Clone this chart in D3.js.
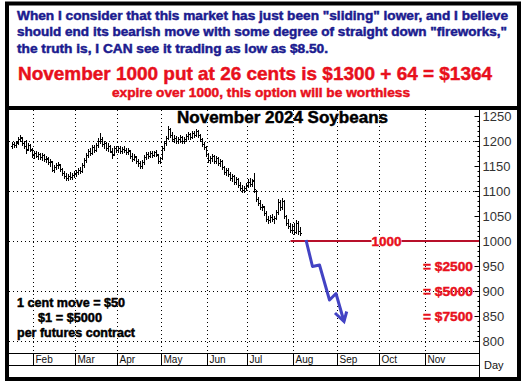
<!DOCTYPE html>
<html>
<head>
<meta charset="utf-8">
<script src="https://cdn.jsdelivr.net/npm/d3@7"></script>
<style>
  body { margin: 0; background: #fff; }
  svg { display: block; font-family: "Liberation Sans", Arial, sans-serif; }
  .heavy { font-weight: bold; stroke-width: 0.45px; }
</style>
</head>
<body>
<svg id="chart" width="524" height="386"></svg>
<script>
// daily bars, one per weekday starting Thu Jan 18 2024
const startDate = new Date(2024, 0, 18);
const opens  = [1190,1194,1192,1198,1204,1206,1196,1190,1184,1192,1182,1172,1176,1170,1174,1168,1172,1164,1164,1158,
                1158,1143,1148,1152,1152,1144,1136,1130,1126,1130,1128,1133,1136,1139,1142,1140,1152,1162,1172,1180,
                1177,1188,1182,1192,1200,1204,1194,1196,1186,1190,1178,1174,1186,1182,1187,1180,1185,1182,1178,1180,
                1170,1164,1168,1160,1156,1150,1158,1168,1174,1170,1176,1172,1178,1172,1160,1166,1186,1196,1206,1224,
                1212,1204,1206,1200,1204,1208,1200,1204,1210,1214,1208,1216,1212,1220,1212,1204,1194,1188,1174,1162,
                1166,1170,1160,1166,1156,1160,1148,1138,1142,1134,1126,1130,1118,1124,1112,1106,1102,1106,1112,1118,
                1114,1122,1100,1084,1076,1068,1068,1056,1044,1042,1048,1044,1046,1058,1078,1068,1080,1050,1036,1030,
                1022,1030,1018,1036,1020];
const highs  = [1199,1198,1200,1208,1213,1208,1200,1202,1197,1195,1186,1180,1180,1178,1177,1176,1174,1170,1168,1164,
                1160,1152,1156,1158,1155,1147,1140,1136,1134,1138,1136,1140,1142,1146,1148,1156,1166,1176,1184,1186,
                1192,1192,1196,1206,1216,1208,1200,1198,1196,1192,1186,1190,1190,1190,1190,1188,1190,1186,1186,1182,
                1176,1174,1170,1164,1160,1162,1172,1178,1178,1180,1180,1180,1182,1174,1168,1190,1200,1210,1230,1226,
                1218,1212,1210,1208,1212,1210,1208,1214,1218,1216,1220,1220,1225,1222,1214,1206,1198,1190,1176,1170,
                1174,1172,1170,1168,1164,1162,1150,1146,1146,1138,1134,1132,1128,1126,1118,1112,1110,1116,1124,1126,
                1124,1137,1102,1088,1082,1074,1070,1060,1050,1052,1054,1050,1062,1084,1082,1086,1082,1052,1044,1036,
                1034,1036,1042,1040,1028];
const lows   = [1186,1188,1189,1195,1200,1192,1186,1176,1182,1180,1168,1166,1168,1164,1165,1163,1160,1158,1154,1150,
                1140,1138,1144,1146,1140,1132,1126,1122,1122,1124,1124,1128,1130,1134,1136,1138,1148,1158,1168,1172,
                1175,1178,1180,1188,1196,1190,1186,1182,1180,1178,1166,1172,1178,1178,1176,1176,1178,1174,1174,1166,
                1160,1162,1156,1150,1146,1146,1154,1164,1166,1168,1168,1170,1170,1156,1156,1164,1182,1192,1204,1208,
                1200,1198,1196,1196,1198,1196,1196,1200,1204,1204,1206,1208,1210,1208,1200,1190,1184,1170,1158,1156,
                1160,1156,1156,1152,1150,1144,1134,1132,1130,1122,1120,1114,1114,1108,1102,1098,1098,1102,1108,1110,
                1110,1098,1080,1072,1064,1062,1052,1040,1036,1038,1040,1036,1044,1054,1062,1064,1046,1032,1026,1018,
                1016,1014,1016,1014,1012];
const closes = [1194,1192,1197,1205,1208,1196,1190,1182,1193,1184,1172,1176,1171,1174,1168,1172,1164,1166,1158,1160,
                1143,1148,1152,1154,1144,1136,1130,1126,1130,1128,1133,1136,1139,1142,1140,1152,1162,1172,1180,1177,
                1188,1182,1192,1200,1204,1194,1196,1186,1190,1180,1172,1186,1182,1187,1180,1185,1182,1178,1182,1170,
                1164,1170,1160,1156,1150,1158,1168,1174,1170,1176,1172,1178,1174,1160,1166,1186,1196,1206,1224,1212,
                1204,1206,1200,1204,1208,1200,1204,1210,1214,1208,1216,1212,1220,1212,1204,1194,1188,1174,1162,1166,
                1170,1160,1166,1156,1160,1148,1138,1142,1134,1126,1130,1118,1124,1112,1106,1102,1106,1112,1118,1114,
                1120,1104,1084,1076,1068,1070,1056,1044,1042,1048,1044,1046,1058,1078,1068,1080,1050,1036,1030,1022,
                1030,1018,1036,1020,1016];

const months = ["Feb","Mar","Apr","May","Jun","Jul","Aug","Sep","Oct","Nov"];
const monthStarts = [1,2,3,4,5,6,7,8,9,10].map(m => new Date(2024, m, 1));
const priceTicks = [800,850,900,950,1000,1050,1100,1150,1200,1250];
const gridPrices = [800,900,1000,1100,1200];

const strike = 1000;
const strikeStart = 139;          // weekday index where the strike line begins
const strikeLabelAt = 187;
const payoffLabels = [{price: 950, text: "= $2500"}, {price: 900, text: "= $5000"}, {price: 850, text: "= $7500"}];
// projected path drawn as weekday index / price pairs
const arrowPath = [[146.75,1002],[150,949],[153.5,952],[158.5,882],[161.75,895],[165.75,839]];
const arrowHead = [[161.25,856],[165.75,839],[167.1,859]];

const noteLines = [
  'When I consider that this market has just been "sliding" lower, and I believe',
  'should end its bearish move with some degree of straight down "fireworks,"',
  'the truth is, I CAN see it trading as low as $8.50.'
];
const headline = "November 1000 put at 26 cents is $1300 + 64 = $1364";
const subline = "expire over 1000, this option will be worthless";
const title = "November 2024 Soybeans";
const contractNotes = ["1 cent move = $50", "$1 = $5000", "per futures contract"];

// weekdays between startDate and a date
function wd(date) {
  let n = 0;
  for (let d = new Date(startDate); d < date; d.setDate(d.getDate() + 1)) {
    const g = d.getDay();
    if (g !== 0 && g !== 6) n++;
  }
  return n;
}

const svg = d3.select("#chart");
const axisX = 479, plotTop = 110, plotBottom = 377, xAxisTop = 353, xAxisBottom = 365;
const blue = "#1b1b8f", red = "#e8101c";

const x = d3.scaleLinear().domain([0, 233]).range([12.5, 478.5]);
const y = d3.scaleLinear().domain([800, 1250]).range([341, 116]);

function heavyText(sel, color) {
  return sel.attr("class", "heavy").style("fill", color).style("stroke", color)
    .attr("lengthAdjust", "spacingAndGlyphs");
}

// ---- top note box
const noteX = [17, 17, 17];
const noteW = [491, 490, 311];
const noteY = [19.5, 36, 52.5];
noteLines.forEach((t, i) => {
  heavyText(svg.append("text"), blue).attr("x", noteX[i]).attr("y", noteY[i])
    .attr("textLength", noteW[i]).style("font-size", "12px").text(t);
});
heavyText(svg.append("text"), red).attr("x", 18).attr("y", 80).attr("textLength", 474)
  .style("font-size", "18.5px").text(headline);
heavyText(svg.append("text"), red).attr("x", 112).attr("y", 96.5).attr("textLength", 298)
  .style("font-size", "12px").text(subline);

// ---- grid
const grid = svg.append("g").attr("stroke", "#000").attr("stroke-dasharray", "1,3").attr("stroke-width", 1);
grid.selectAll("line.h").data(gridPrices).enter().append("line")
  .attr("x1", 9).attr("x2", axisX).attr("y1", d => Math.round(y(d)) + 0.5).attr("y2", d => Math.round(y(d)) + 0.5);
grid.selectAll("line.v").data(monthStarts).enter().append("line")
  .attr("x1", d => Math.round(x(wd(d))) + 0.5).attr("x2", d => Math.round(x(wd(d))) + 0.5)
  .attr("y1", plotTop).attr("y2", xAxisTop);

// ---- x axis (month boxes)
const xa = svg.append("g").attr("stroke", "#000").attr("stroke-width", 1);
xa.append("line").attr("x1", 9).attr("x2", axisX).attr("y1", xAxisTop + 0.5).attr("y2", xAxisTop + 0.5);
xa.append("line").attr("x1", 9).attr("x2", axisX).attr("y1", xAxisBottom + 0.5).attr("y2", xAxisBottom + 0.5);
xa.selectAll("line.m").data(monthStarts).enter().append("line")
  .attr("x1", d => Math.round(x(wd(d))) + 0.5).attr("x2", d => Math.round(x(wd(d))) + 0.5)
  .attr("y1", xAxisTop).attr("y2", xAxisBottom);
svg.selectAll("text.month").data(months).enter().append("text")
  .attr("x", (d, i) => Math.round(x(wd(monthStarts[i]))) + 2.5).attr("y", 363)
  .style("font-size", "10px").style("fill", "#111").text(d => d);
svg.append("text").attr("x", 484).attr("y", 369).style("font-size", "11px").style("fill", "#111").text("Day");

// ---- y axis on the right
const minor = svg.append("g").attr("transform", `translate(${axisX + 0.5},0)`)
  .call(d3.axisRight(y).tickValues(d3.range(800, 1251, 10)).tickSize(-2).tickFormat(""));
minor.select(".domain").remove();
const yAxis = svg.append("g").attr("transform", `translate(${axisX + 0.5},0)`)
  .call(d3.axisRight(y).tickValues(priceTicks).tickSize(-5).tickPadding(3).tickFormat(d3.format("d")));
yAxis.select(".domain").remove();
yAxis.selectAll("text").style("font-family", "Liberation Sans, Arial, sans-serif").style("font-size", "13px").style("fill", "#333");
svg.append("line").attr("x1", axisX + 0.5).attr("x2", axisX + 0.5).attr("y1", plotTop).attr("y2", plotBottom)
  .attr("stroke", "#000");

// ---- title
heavyText(svg.append("text"), "#000").attr("x", 177).attr("y", 122.5).attr("textLength", 211)
  .style("font-size", "16px").text(title);

// ---- OHLC bars
svg.append("g").selectAll("path").data(closes).enter().append("path")
  .attr("d", (c, i) => {
    const cx = x(i);
    const yo = Math.round(y(opens[i])) + 0.5, yc = Math.round(y(c)) + 0.5;
    return `M${cx},${Math.round(y(highs[i]))}V${Math.round(y(lows[i])) + 1}` +
           `M${cx - 1.5},${yo}H${cx}M${cx},${yc}H${cx + 1.5}`;
  })
  .attr("fill", "none").attr("stroke", "#000").attr("stroke-width", 1);

// ---- strike line with label
svg.append("line").attr("x1", x(strikeStart)).attr("x2", axisX).attr("y1", y(strike)).attr("y2", y(strike))
  .attr("stroke", "#b8102a").attr("stroke-width", 2);
svg.append("rect").attr("x", x(strikeLabelAt) - 15).attr("y", y(strike) - 5).attr("width", 30).attr("height", 10)
  .attr("fill", "#fff");
heavyText(svg.append("text"), red).attr("x", x(strikeLabelAt)).attr("y", y(strike) + 4.5).attr("text-anchor", "middle")
  .attr("textLength", 30).style("font-size", "13px").text(strike);

svg.selectAll("text.pay").data(payoffLabels).enter().append("text")
  .call(s => heavyText(s, red))
  .attr("x", axisX - 6).attr("y", d => y(d.price) + 5).attr("text-anchor", "end")
  .attr("textLength", 50).style("font-size", "13.5px").text(d => d.text);

// ---- projected arrow
const line = d3.line().x(d => x(d[0])).y(d => y(d[1]));
svg.append("path").attr("d", line(arrowPath)).attr("fill", "none")
  .attr("stroke", "#4343c4").attr("stroke-width", 3).attr("stroke-linejoin", "round");
svg.append("path").attr("d", line(arrowHead)).attr("fill", "none")
  .attr("stroke", "#4343c4").attr("stroke-width", 3).attr("stroke-linejoin", "miter");

// ---- contract notes
const cnX = [17, 38, 17], cnY = [307, 322, 337], cnW = [108, 64, 118];
contractNotes.forEach((t, i) => {
  heavyText(svg.append("text"), "#000").attr("x", cnX[i]).attr("y", cnY[i]).attr("textLength", cnW[i])
    .style("font-size", "12px").text(t);
});

// ---- frames
svg.append("rect").attr("x", 7).attr("y", 3.5).attr("width", 512).attr("height", 375.5)
  .attr("fill", "none").attr("stroke", "#000").attr("stroke-width", 4);
svg.append("line").attr("x1", 7).attr("x2", 519).attr("y1", 108).attr("y2", 108)
  .attr("stroke", "#000").attr("stroke-width", 4);
</script>
</body>
</html>
